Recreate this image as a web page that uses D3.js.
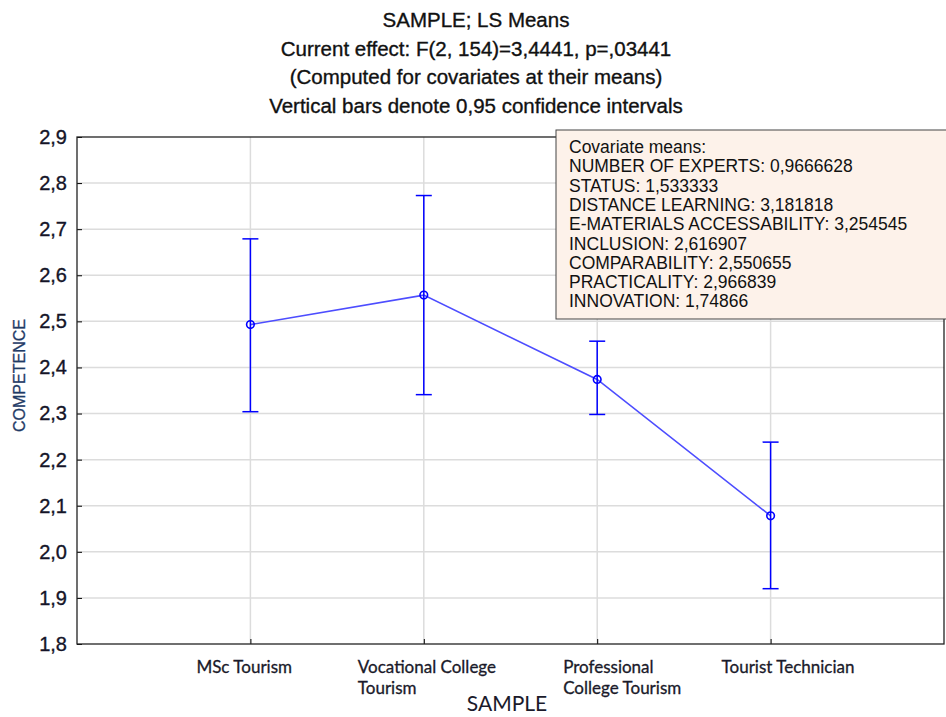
<!DOCTYPE html>
<html lang="en">
<head>
<meta charset="UTF-8">
<title>LS Means</title>
<script src="https://cdn.jsdelivr.net/npm/d3@7"></script>
<style>
  body { margin: 0; background: #fff; }
  svg text { font-family: Arial, "Liberation Sans", sans-serif; }
</style>
</head>
<body>
<script>
// data
var categories = ["MSc Tourism", "Vocational College Tourism", "Professional College Tourism", "Tourist Technician"];
var labelLines = [["MSc Tourism"], ["Vocational College", "Tourism"], ["Professional", "College Tourism"], ["Tourist Technician"]];
var means = [2.493, 2.557, 2.374, 2.078];
var lower = [2.304, 2.341, 2.298, 1.920];
var upper = [2.679, 2.773, 2.457, 2.238];
var yTicks = [1.8, 1.9, 2.0, 2.1, 2.2, 2.3, 2.4, 2.5, 2.6, 2.7, 2.8, 2.9];
var titleLines = [
  "SAMPLE; LS Means",
  "Current effect: F(2, 154)=3,4441, p=,03441",
  "(Computed for covariates at their means)",
  "Vertical bars denote 0,95 confidence intervals"
];
var covariateLines = [
  "Covariate means:",
  "NUMBER OF EXPERTS: 0,9666628",
  "STATUS: 1,533333",
  "DISTANCE LEARNING: 3,181818",
  "E-MATERIALS ACCESSABILITY: 3,254545",
  "INCLUSION: 2,616907",
  "COMPARABILITY: 2,550655",
  "PRACTICALITY: 2,966839",
  "INNOVATION: 1,74866"
];

// layout
var W = 946, H = 717;
var margin = {top: 137, right: 2, bottom: 73, left: 77};
var w = W - margin.left - margin.right,
    h = H - margin.top - margin.bottom;
var labelShift = [-54, -66, -34, -49];   // left edge of each x label relative to its tick

var svg = d3.select("body").append("svg")
    .attr("width", W)
    .attr("height", H);

var g = svg.append("g")
    .attr("transform", "translate(" + margin.left + "," + margin.top + ")");

var x = d3.scalePoint().domain(categories).range([0, w]).padding(1);
var y = d3.scaleLinear().domain([1.8, 2.9]).range([h, 0]);

var fmt = function (d) { return d3.format(".1f")(d).replace(".", ","); };

// grid
g.selectAll(".hgrid")
  .data(yTicks.slice(1, -1))
  .enter().append("line")
    .attr("x1", 0).attr("x2", w)
    .attr("y1", function (d) { return y(d); })
    .attr("y2", function (d) { return y(d); })
    .attr("stroke", "#dcdcdc").attr("stroke-width", 1.5);

g.selectAll(".vgrid")
  .data(categories)
  .enter().append("line")
    .attr("x1", function (d) { return x(d); })
    .attr("x2", function (d) { return x(d); })
    .attr("y1", 0).attr("y2", h)
    .attr("stroke", "#dcdcdc").attr("stroke-width", 1.5);

// axes (ticks drawn inward)
var yAxis = g.append("g")
    .call(d3.axisLeft(y).tickValues(yTicks).tickSize(-5).tickPadding(10).tickFormat(fmt));
yAxis.select(".domain").remove();
yAxis.selectAll("text")
    .attr("font-size", 20).attr("fill", "#141428")
    .attr("stroke", "#141428").attr("stroke-width", 0.35);

var xAxis = g.append("g")
    .attr("transform", "translate(0," + h + ")")
    .call(d3.axisBottom(x).tickSize(-5).tickFormat(""));
xAxis.select(".domain").remove();

// frame
g.append("rect")
    .attr("width", w).attr("height", h)
    .attr("fill", "none").attr("stroke", "#222").attr("stroke-width", 1.3);

// x labels
var xl = g.append("g").attr("transform", "translate(0," + h + ")");
labelLines.forEach(function (lines, i) {
  var t = xl.append("text")
      .attr("x", x(categories[i]) + labelShift[i])
      .attr("y", 29)
      .style("font-family", "Lato, 'Open Sans', sans-serif")
      .attr("font-size", 17)
      .attr("fill", "#1a1a2a")
      .attr("stroke", "#1a1a2a").attr("stroke-width", 0.3);
  lines.forEach(function (s, j) {
    t.append("tspan")
      .attr("x", x(categories[i]) + labelShift[i])
      .attr("dy", j === 0 ? 0 : 21)
      .text(s);
  });
});

// line through means
var pts = categories.map(function (c, i) { return {c: c, m: means[i], lo: lower[i], hi: upper[i]}; });

g.append("path")
    .datum(pts)
    .attr("fill", "none")
    .attr("stroke", "#4d4dff")
    .attr("stroke-width", 1.6)
    .attr("d", d3.line().x(function (d) { return x(d.c); }).y(function (d) { return y(d.m); }));

// error bars
var eb = g.selectAll(".err").data(pts).enter().append("g").attr("class", "err");
eb.append("line")
    .attr("x1", function (d) { return x(d.c); }).attr("x2", function (d) { return x(d.c); })
    .attr("y1", function (d) { return y(d.lo); }).attr("y2", function (d) { return y(d.hi); })
    .attr("stroke", "#0000ff").attr("stroke-width", 1.5);
["lo", "hi"].forEach(function (k) {
  eb.append("line")
    .attr("x1", function (d) { return x(d.c) - 8; }).attr("x2", function (d) { return x(d.c) + 8; })
    .attr("y1", function (d) { return y(d[k]); }).attr("y2", function (d) { return y(d[k]); })
    .attr("stroke", "#0000ff").attr("stroke-width", 1.5);
});
eb.append("circle")
    .attr("cx", function (d) { return x(d.c); })
    .attr("cy", function (d) { return y(d.m); })
    .attr("r", 3.8)
    .attr("fill", "none")
    .attr("stroke", "#0000ff").attr("stroke-width", 1.6);

// title
svg.append("g").selectAll("text")
  .data(titleLines)
  .enter().append("text")
    .attr("x", 476)
    .attr("y", function (d, i) { return 27 + i * 28.7; })
    .attr("text-anchor", "middle")
    .attr("font-size", 20.5)
    .attr("fill", "#111")
    .attr("stroke", "#111").attr("stroke-width", 0.35)
    .text(function (d) { return d; });

// axis titles
svg.append("text")
    .attr("transform", "translate(25," + (margin.top + h / 2 - 15) + ") rotate(-90)")
    .attr("text-anchor", "middle")
    .attr("font-size", 16)
    .attr("fill", "#1f3a66")
    .attr("stroke", "#1f3a66").attr("stroke-width", 0.3)
    .text("COMPETENCE");

svg.append("text")
    .attr("x", 507).attr("y", 711)
    .attr("text-anchor", "middle")
    .style("font-family", "Lato, 'Open Sans', sans-serif")
    .attr("font-size", 21)
    .attr("fill", "#1a1a2a")
    .text("SAMPLE");

// covariate box
var box = svg.append("g").attr("transform", "translate(556,130)");
box.append("rect")
    .attr("width", 391).attr("height", 189)
    .attr("fill", "#fdf2ea").attr("stroke", "#444").attr("stroke-width", 1);
box.selectAll("text")
  .data(covariateLines)
  .enter().append("text")
    .attr("x", 13)
    .attr("y", function (d, i) { return 23 + i * 19.3; })
    .attr("font-size", 17.5)
    .attr("fill", "#111")
    .text(function (d) { return d; });
</script>
</body>
</html>
